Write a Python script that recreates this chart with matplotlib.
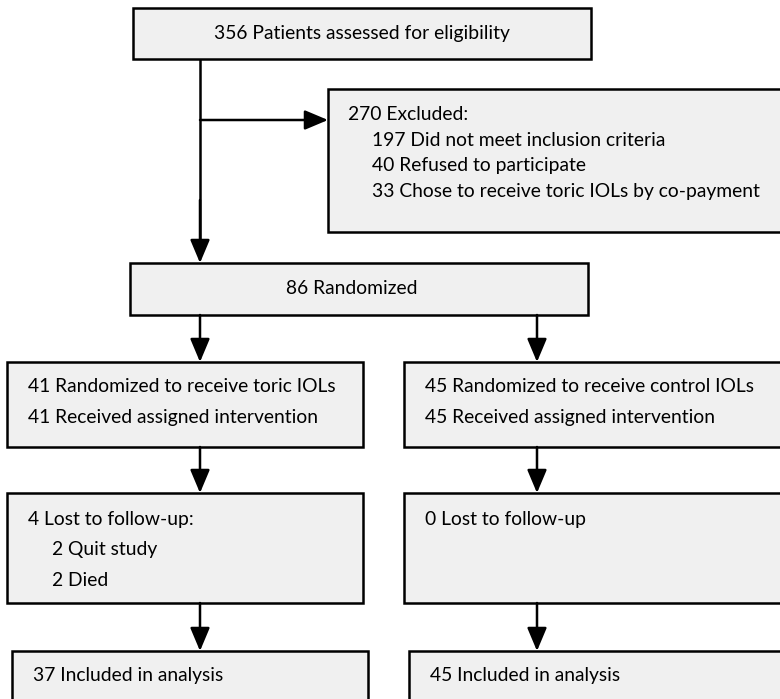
import matplotlib
matplotlib.use("Agg")
import matplotlib.pyplot as plt
from matplotlib.patches import Rectangle

# ---- content ----
top_text = ["356 Patients assessed for eligibility"]
excluded_text = ["270 Excluded:", "   197 Did not meet inclusion criteria",
                 "   40 Refused to participate",
                 "   33 Chose to receive toric IOLs by co-payment"]
random_text = ["86 Randomized"]
left_alloc = ["41 Randomized to receive toric IOLs", "41 Received assigned intervention"]
right_alloc = ["45 Randomized to receive control IOLs", "45 Received assigned intervention"]
left_follow = ["4 Lost to follow-up:", "   2 Quit study", "   2 Died"]
right_follow = ["0 Lost to follow-up"]
left_anal = ["37 Included in analysis"]
right_anal = ["45 Included in analysis"]

FONT = "Lato"
FS = 13.9
FILL = "#f0f0f0"
LW = 1.8

fig = plt.figure(figsize=(7.8, 6.99), dpi=100)
ax = fig.add_axes([0, 0, 1, 1])
ax.set_xlim(0, 780)
ax.set_ylim(699, 0)
ax.axis("off")


def box(x0, y0, x1, y1):
    ax.add_patch(Rectangle((x0, y0), x1 - x0, y1 - y0, facecolor=FILL,
                           edgecolor="black", lw=LW, zorder=2))


def lines(x, ys, texts, ha="left", indent=24):
    for y, t in zip(ys, texts):
        xi = x
        if t.startswith("   "):
            xi = x + indent
            t = t.strip()
        ax.text(xi, y, t, ha=ha, va="center", fontsize=FS, family=FONT, zorder=3)


def arrow(x0, y0, x1, y1):
    ax.annotate("", xy=(x1, y1), xytext=(x0, y0),
                arrowprops=dict(arrowstyle="-|>,head_length=0.95,head_width=0.4",
                                mutation_scale=15, lw=LW, color="black",
                                shrinkA=0, shrinkB=0), zorder=4)


# boxes
box(133, 8, 591, 59)
box(328, 89, 800, 232)
box(130, 263, 588, 315)
box(7, 362, 363, 447)
box(404, 362, 800, 447)
box(7, 493, 363, 603)
box(404, 493, 800, 603)
box(12, 651, 368, 720)
box(409, 651, 800, 720)

# connectors
ax.plot([200, 200], [59, 250], color="black", lw=LW, zorder=1, solid_capstyle="butt")
arrow(200, 120, 328, 120)
arrow(200, 200, 200, 263)
arrow(200, 315, 200, 362)
arrow(537, 315, 537, 362)
arrow(200, 447, 200, 493)
arrow(537, 447, 537, 493)
arrow(200, 603, 200, 651)
arrow(537, 603, 537, 651)

# texts
lines(362, [33], top_text, ha="center")
lines(348, [115, 140, 166, 192], excluded_text)
lines(352, [289], random_text, ha="center")
lines(28, [387, 418], left_alloc)
lines(425, [387, 418], right_alloc)
lines(28, [520, 550, 580], left_follow)
lines(425, [520], right_follow)
lines(33, [675], left_anal)
lines(430, [675], right_anal)

fig.savefig("out.png", dpi=100)
